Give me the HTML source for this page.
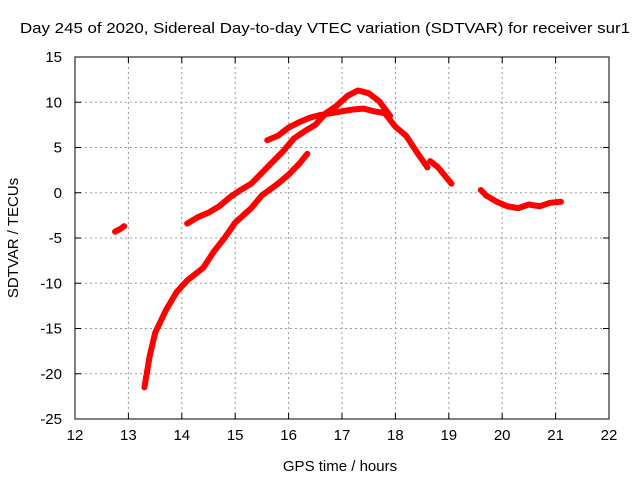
<!DOCTYPE html>
<html><head><meta charset="utf-8"><style>
body{margin:0;background:#fff;font-family:"Liberation Sans",sans-serif}
svg text{font-family:"Liberation Sans",sans-serif;font-size:14px;fill:#000}
</style></head><body>
<svg id="c" width="640" height="480" xmlns="http://www.w3.org/2000/svg">
<rect width="640" height="480" fill="#fff"/>
<text x="20" y="33" textLength="610" lengthAdjust="spacingAndGlyphs" style="font-size:15px">Day 245 of 2020, Sidereal Day-to-day VTEC variation (SDTVAR) for receiver sur1</text>
<text x="340" y="471" text-anchor="middle" style="font-size:15px">GPS time / hours</text>
<text x="18" y="238" text-anchor="middle" style="font-size:15px" transform="rotate(-90 18 238)">SDTVAR / TECUs</text>
<g id="grid"></g><g id="marks"></g>
<rect x="75" y="57" width="534" height="362" fill="none" stroke="#000"/>
</svg>
<script>
const xTicks=[12,13,14,15,16,17,18,19,20,21,22];
const yTicks=[15,10,5,0,-5,-10,-15,-20,-25];
const segA=[[12.75,-4.3],[12.85,-4.0],[12.92,-3.7]];
const segB=[[13.3,-21.5],[13.4,-18],[13.5,-15.5],[13.7,-13],[13.9,-11],[14.1,-9.7],[14.4,-8.3],[14.6,-6.5],[14.8,-5],[15.0,-3.3],[15.3,-1.7],[15.5,-0.3],[15.8,1],[16.0,2],[16.2,3.2],[16.35,4.3]];
const segC=[[14.1,-3.4],[14.3,-2.7],[14.5,-2.2],[14.7,-1.5],[14.9,-0.5],[15.1,0.3],[15.3,1.0],[15.6,2.8],[15.9,4.6],[16.1,6.0],[16.3,6.8],[16.5,7.5],[16.7,8.8],[16.9,9.6],[17.1,10.7],[17.3,11.3],[17.5,11.0],[17.7,10.1],[17.9,8.5]];
const segD=[[15.6,5.8],[15.8,6.3],[16.0,7.2],[16.2,7.8],[16.4,8.3],[16.6,8.6],[16.8,8.8],[17.0,9.0],[17.2,9.2],[17.4,9.3],[17.6,9.0],[17.8,8.8],[18.0,7.3],[18.2,6.3],[18.4,4.5],[18.6,2.8]];
const segE=[[18.65,3.5],[18.8,2.8],[19.05,1.0]];
const segF=[[19.6,0.3],[19.7,-0.3],[19.9,-1.0],[20.1,-1.5],[20.3,-1.7],[20.5,-1.3],[20.7,-1.5],[20.9,-1.1],[21.1,-1.0]];
const segments=[segA,segB,segC,segD,segE,segF];
const X=v=>75+(v-12)/10*534, Y=v=>57+(15-v)/40*362;
const NS="http://www.w3.org/2000/svg";
const grid=document.getElementById('grid'),marks=document.getElementById('marks');
function mk(tag,a,p){const e=document.createElementNS(NS,tag);for(const k in a)e.setAttribute(k,a[k]);p.appendChild(e);return e;}
xTicks.forEach(t=>{
 if(t>12&&t<22){const l=mk('line',{x1:X(t),x2:X(t),y1:57,y2:419,stroke:'#999','stroke-dasharray':'2,3'},grid);
 
 }
 const tx=mk('text',{x:X(t),y:440,'text-anchor':'middle',style:'font-size:15px'},grid);tx.textContent=t;
 
 
 mk('line',{x1:X(t),x2:X(t),y1:419,y2:413,stroke:'#000'},grid);mk('line',{x1:X(t),x2:X(t),y1:57,y2:63,stroke:'#000'},grid);
});
yTicks.forEach(t=>{
 if(t<15&&t>-25){const l=mk('line',{x1:75,x2:609,y1:Y(t),y2:Y(t),stroke:'#999','stroke-dasharray':'2,3'},grid);
 
 }
 const tx=mk('text',{x:62,y:Y(t)+5,'text-anchor':'end',style:'font-size:15px'},grid);tx.textContent=t;
 
 
 mk('line',{x1:75,x2:81,y1:Y(t),y2:Y(t),stroke:'#000'},grid);mk('line',{x1:609,x2:603,y1:Y(t),y2:Y(t),stroke:'#000'},grid);
});
segments.forEach((s,i)=>{
 const p=mk('polyline',{points:s.map(d=>X(d[0])+','+Y(d[1])).join(' '),fill:'none',stroke:'#f00','stroke-width':6,'stroke-linejoin':'round','stroke-linecap':'round'},marks);
 
 
});
</script>
</body></html>
